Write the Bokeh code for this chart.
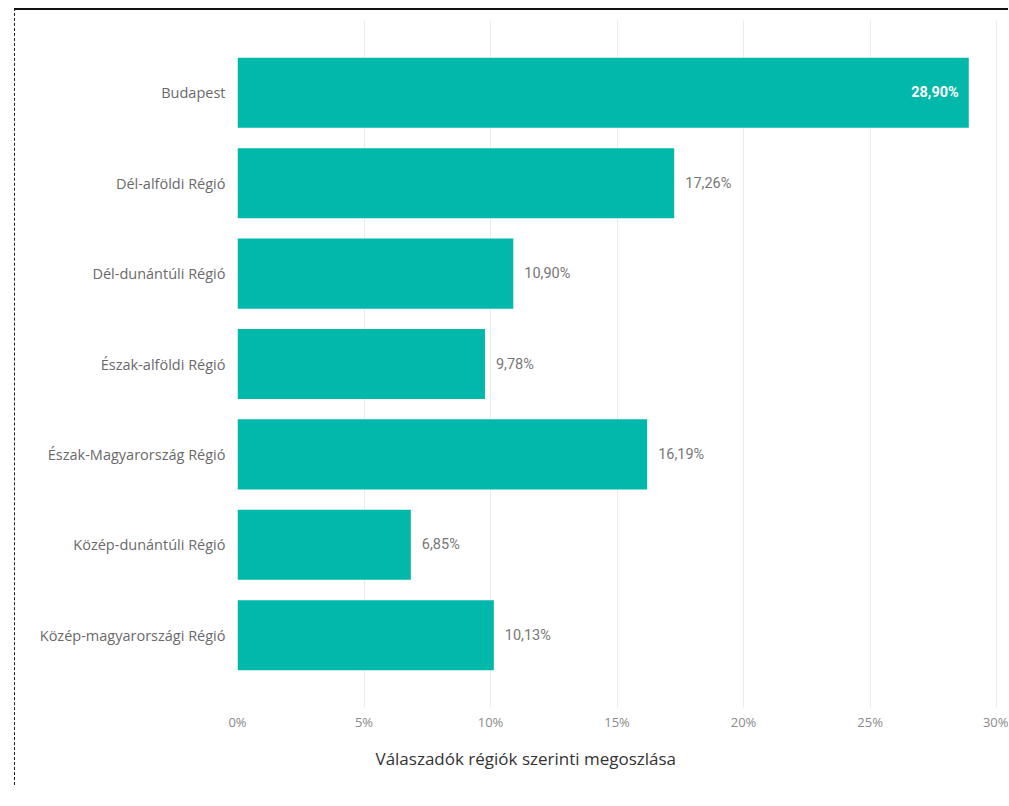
from bokeh.plotting import figure
from bokeh.models import ColumnDataSource, FactorRange, Title, FixedTicker
from bokeh.core.properties import value
from bokeh.embed import file_html
from bokeh.resources import INLINE

regions = ["Budapest", "Dél-alföldi Régió", "Dél-dunántúli Régió", "Észak-alföldi Régió",
           "Észak-Magyarország Régió", "Közép-dunántúli Régió", "Közép-magyarországi Régió"]
shares = [28.90, 17.26, 10.90, 9.78, 16.19, 6.85, 10.13]
labels = ["28,90%", "17,26%", "10,90%", "9,78%", "16,19%", "6,85%", "10,13%"]
x_ticks = [0, 5, 10, 15, 20, 25, 30]
x_title = "Válaszadók régiók szerinti megoszlása"

inside = [s > 25 for s in shares]
src_out = ColumnDataSource(dict(
    y=[r for r, i in zip(regions, inside) if not i],
    x=[s for s, i in zip(shares, inside) if not i],
    t=[l for l, i in zip(labels, inside) if not i]))
src_in = ColumnDataSource(dict(
    y=[r for r, i in zip(regions, inside) if i],
    x=[s for s, i in zip(shares, inside) if i],
    t=[l for l, i in zip(labels, inside) if i]))
src = ColumnDataSource(dict(y=regions, x=shares))

yr = FactorRange(factors=list(reversed(regions)), range_padding=0.3, range_padding_units="absolute")

p = figure(width=994, height=777, y_range=yr, x_range=(0, 30.51),
           output_backend="svg", toolbar_location=None,
           min_border_left=222, min_border_top=10, min_border_right=0, min_border_bottom=80)
p.styles = {"border-top": "2px solid #111", "border-left": "1px dashed #222",
            "margin-left": "14px", "margin-top": "8px"}

p.hbar(y="y", right="x", left=0, height=0.775, source=src, color="#01B8AA", line_color=None)

p.text(x="x", y="y", text="t", source=src_out, x_offset=11, text_align="left", text_baseline="middle",
       text_font=value("Roboto"), text_font_size="14.5px", text_color="#777777")
p.text(x="x", y="y", text="t", source=src_in, x_offset=-10, text_align="right", text_baseline="middle",
       text_font=value("Roboto"), text_font_size="14.5px", text_color="#ffffff",
       text_font_style="bold")

p.outline_line_color = None
p.ygrid.grid_line_color = None
p.xgrid.grid_line_color = "#ebebeb"
p.xgrid.ticker = FixedTicker(ticks=x_ticks)

p.xaxis.ticker = FixedTicker(ticks=x_ticks)
p.xaxis.major_label_overrides = {t: f"{t}%" for t in x_ticks}
p.xaxis.axis_line_color = None
p.xaxis.major_tick_line_color = None
p.xaxis.minor_tick_line_color = None
p.xaxis.major_tick_out = 0
p.xaxis.major_tick_in = 0
p.xaxis.minor_tick_out = 0
p.xaxis.major_label_standoff = 5
p.xaxis.major_label_text_font = "Open Sans"
p.xaxis.major_label_text_font_size = "13px"
p.xaxis.major_label_text_color = "#8a8a8a"

p.yaxis.axis_line_color = None
p.yaxis.major_tick_line_color = None
p.yaxis.minor_tick_line_color = None
p.yaxis.major_tick_out = 0
p.yaxis.major_tick_in = 0
p.yaxis.major_label_standoff = 12
p.yaxis.major_label_text_font = "Open Sans"
p.yaxis.major_label_text_font_size = "14.5px"
p.yaxis.major_label_text_color = "#6a6a6a"

p.add_layout(Title(text=x_title, align="left", offset=138, text_font="Open Sans",
                   text_font_size="17px", text_font_style="normal", text_color="#333333",
                   standoff=23), "below")

open("out.html", "w").write(file_html(p, INLINE))
